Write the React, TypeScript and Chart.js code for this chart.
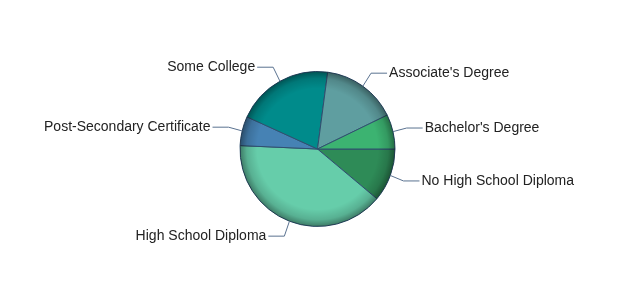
import React, { useEffect, useRef } from "react";
import { Chart, registerables } from "chart.js";

Chart.register(...registerables);

const categories = [
  "No High School Diploma",
  "High School Diploma",
  "Post-Secondary Certificate",
  "Some College",
  "Associate's Degree",
  "Bachelor's Degree",
];
const shares = [11.1, 39.6, 6.1, 20.3, 15.7, 7.2];
const sliceColors = ["#2E8B57", "#66CDAA", "#4682B4", "#008B8B", "#5F9EA0", "#3CB371"];

const BORDER = "#2f4f6f";
const CONNECTOR = "#5a7290";
const FONT = "14px 'Liberation Sans', Arial, sans-serif";

// Darkened rim on the pie plus outside labels joined by elbow connectors
const pieDecor = {
  id: "pieDecor",
  afterDatasetsDraw(chart: any) {
    const ctx: CanvasRenderingContext2D = chart.ctx;
    const arcs = chart.getDatasetMeta(0).data;
    if (!arcs.length) return;
    const { x, y, outerRadius: r } = arcs[0];

    // rim shading
    ctx.save();
    const g = ctx.createRadialGradient(x, y, r * 0.78, x, y, r);
    g.addColorStop(0, "rgba(0,0,0,0)");
    g.addColorStop(0.6, "rgba(0,0,0,0.14)");
    g.addColorStop(1, "rgba(0,0,0,0.4)");
    ctx.beginPath();
    ctx.arc(x, y, r, 0, Math.PI * 2);
    ctx.fillStyle = g;
    ctx.fill();
    ctx.restore();

    // labels
    ctx.save();
    ctx.font = FONT;
    ctx.textBaseline = "middle";
    ctx.lineWidth = 1;
    ctx.strokeStyle = CONNECTOR;
    ctx.fillStyle = "#222";
    arcs.forEach((arc: any, i: number) => {
      const mid = (arc.startAngle + arc.endAngle) / 2;
      const cos = Math.cos(mid);
      const sin = Math.sin(mid);
      const sx = x + r * cos;
      const sy = y + r * sin;
      const ex = x + (r + 14) * cos;
      const ey = y + (r + 16) * sin;
      const dir = cos >= 0 ? 1 : -1;
      const hx = ex + dir * 16;
      ctx.beginPath();
      ctx.moveTo(sx, sy);
      ctx.lineTo(ex, ey);
      ctx.lineTo(hx, ey);
      ctx.stroke();
      ctx.textAlign = dir > 0 ? "left" : "right";
      ctx.fillText(categories[i], hx + dir * 2, ey);
    });
    ctx.restore();
  },
};

export default function App() {
  const ref = useRef<HTMLCanvasElement>(null);

  useEffect(() => {
    if (!ref.current) return;
    const chart = new Chart(ref.current, {
      type: "pie",
      data: {
        labels: categories,
        datasets: [
          {
            data: shares,
            backgroundColor: sliceColors,
            borderColor: BORDER,
            borderWidth: 1,
          },
        ],
      },
      options: {
        animation: false,
        responsive: false,
        rotation: 90,
        layout: { padding: { top: 71, bottom: 73, left: 0, right: 0 } },
        plugins: {
          legend: { display: false },
          tooltip: { enabled: false },
        },
      },
      plugins: [pieDecor],
    });
    return () => chart.destroy();
  }, []);

  return (
    <div style={{ position: "fixed", left: 0, top: 0, width: 635, height: 300, background: "#fff" }}>
      <canvas ref={ref} width={635} height={300} />
    </div>
  );
}
